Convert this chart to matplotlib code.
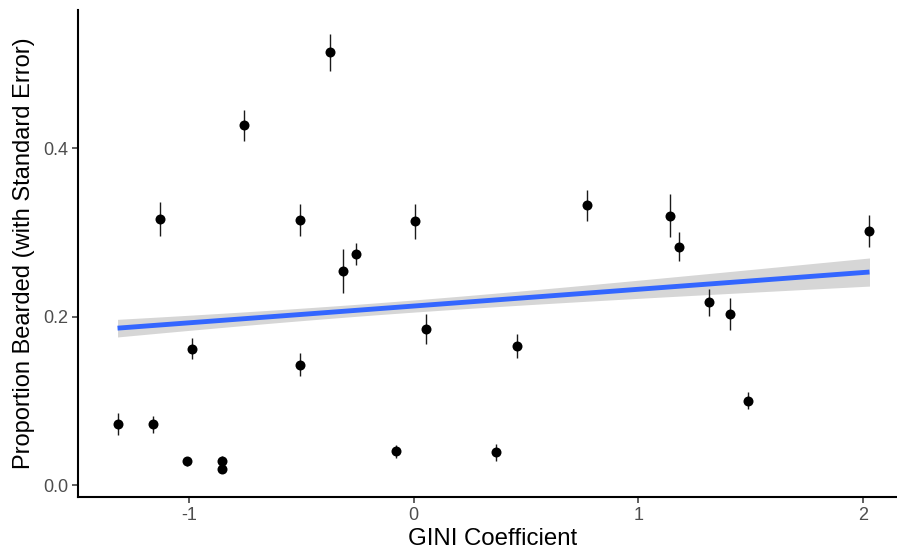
import numpy as np
import matplotlib
matplotlib.use("Agg")
import matplotlib.pyplot as plt

# ---- data ----
gini = [-1.318, -1.161, -1.127, -1.008, -0.988, -0.853, -0.853, -0.756, -0.506, -0.506,
        -0.371, -0.314, -0.256, -0.079, 0.007, 0.057, 0.366, 0.461, 0.773, 1.141,
        1.180, 1.315, 1.411, 1.488, 2.030]
prop_bearded = [0.072, 0.072, 0.316, 0.028, 0.162, 0.029, 0.019, 0.427, 0.315, 0.143,
                0.514, 0.254, 0.274, 0.040, 0.313, 0.185, 0.039, 0.165, 0.332, 0.320,
                0.283, 0.217, 0.203, 0.100, 0.302]
std_err = [0.013, 0.010, 0.020, 0.005, 0.012, 0.005, 0.005, 0.018, 0.019, 0.014,
           0.022, 0.026, 0.013, 0.008, 0.021, 0.018, 0.010, 0.014, 0.018, 0.025,
           0.017, 0.016, 0.019, 0.010, 0.019]

# linear fit shown in the reference (weighted lm): intercept, slope, band parameters
fit_intercept = 0.2125
fit_slope = 0.0199
band_se0 = 0.0071      # half-width of 95% band at its narrowest point
band_xcenter = -0.19
band_k = 0.92

x_ticks = [-1, 0, 1, 2]
y_ticks = [0.0, 0.2, 0.4]

# ---- figure ----
W, H = 897, 554
fig = plt.figure(figsize=(W / 100, H / 100), dpi=100)
# panel extends slightly past the right edge (reference is cropped there)
ax = fig.add_axes([78 / W, 1 - 497 / H, (907 - 78) / W, (497 - 10) / H])

x = np.array(gini)
y = np.array(prop_bearded)
e = np.array(std_err)

xs = np.linspace(x.min(), x.max(), 200)
ys = fit_intercept + fit_slope * xs
hw = band_se0 * np.sqrt(1 + band_k * (xs - band_xcenter) ** 2)

ax.fill_between(xs, ys - hw, ys + hw, color="#999999", alpha=0.4, linewidth=0, zorder=1)
ax.errorbar(x, y, yerr=e, fmt="none", ecolor="#1a1a1a", elinewidth=1.0, capsize=0, zorder=2)
ax.plot(x, y, "o", color="black", markersize=7.2, markeredgewidth=0, zorder=3)
ax.plot(xs, ys, color="#3366FF", linewidth=3.5, zorder=4, solid_capstyle="butt")

ax.set_xlim(-1.494, 2.197)
ax.set_ylim(-0.0142, 0.564)
ax.set_xticks(x_ticks)
ax.set_xticklabels([str(t) for t in x_ticks])
ax.set_yticks(y_ticks)
ax.set_yticklabels([f"{t:.1f}" for t in y_ticks])

font = "Liberation Sans"
for lab in ax.get_xticklabels() + ax.get_yticklabels():
    lab.set_fontfamily(font)
    lab.set_fontsize(13)
    lab.set_color("#4D4D4D")
ax.tick_params(axis="both", length=4, width=1.1, color="#333333", pad=3)

ax.set_xlabel("GINI Coefficient", fontfamily=font, fontsize=17.3, color="black", labelpad=3)
ax.set_ylabel("Proportion Bearded (with Standard Error)", fontfamily=font, fontsize=17.0,
              color="black", labelpad=6)

for s in ["top", "right"]:
    ax.spines[s].set_visible(False)
for s in ["left", "bottom"]:
    ax.spines[s].set_linewidth(1.5)
    ax.spines[s].set_color("black")

fig.savefig("out.png", dpi=100)
